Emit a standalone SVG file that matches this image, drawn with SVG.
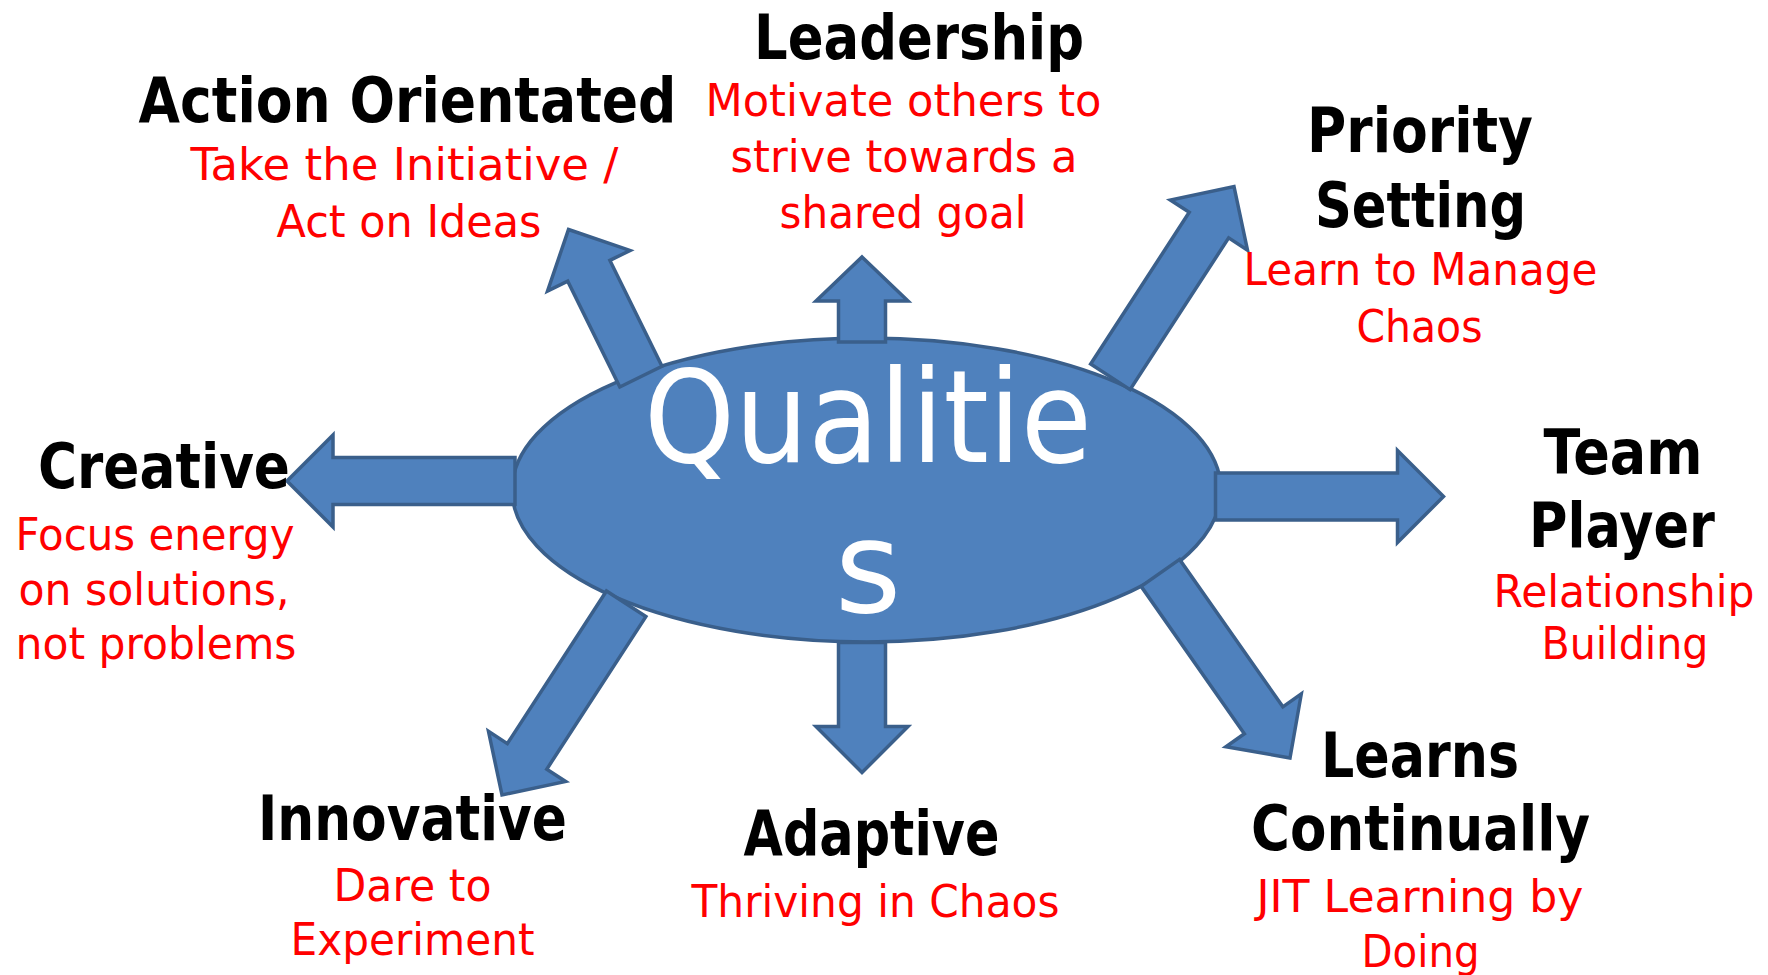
<svg xmlns="http://www.w3.org/2000/svg" width="1768" height="975" viewBox="0 0 1768 975">
<style>
.shape{fill:#4F81BD;stroke:#3A5F8B;stroke-width:3.5;stroke-linejoin:miter}
.h{font-family:"DejaVu Sans","Liberation Sans",sans-serif;font-weight:bold;font-size:62px;fill:#000;text-anchor:middle}
.s{font-family:"DejaVu Sans","Liberation Sans",sans-serif;font-size:44px;fill:#FF0000;text-anchor:middle}
.c{font-family:"DejaVu Sans","Liberation Sans",sans-serif;font-size:128px;fill:#FFFFFF;text-anchor:middle}
</style>
<rect width="1768" height="975" fill="#FFFFFF"/>
<g id="center-shape">
<ellipse class="shape" cx="866.5" cy="490" rx="354.5" ry="152"/>
</g>
<g id="connectors">
<polygon class="shape" transform="translate(862,257)" points="0,0 46,44 23.5,44 23.5,85 -23.5,85 -23.5,44 -46,44"/>
<polygon class="shape" transform="translate(862,772.5) rotate(180)" points="0,0 46,46 23.5,46 23.5,130 -23.5,130 -23.5,46 -46,46"/>
<polygon class="shape" transform="translate(287,481) rotate(-90)" points="0,0 46,46 23.5,46 23.5,228 -23.5,228 -23.5,46 -46,46"/>
<polygon class="shape" transform="translate(1443.5,496.5) rotate(90)" points="0,0 46,46 23.5,46 23.5,228 -23.5,228 -23.5,46 -46,46"/>
<polygon class="shape" transform="translate(568.5,229.5) rotate(-26.2)" points="0,0 46,46 23.5,46 23.5,164 -23.5,164 -23.5,46 -46,46"/>
<polygon class="shape" transform="translate(1234,186.5) rotate(33)" points="0,0 46,46 23.5,46 23.5,227 -23.5,227 -23.5,46 -46,46"/>
<polygon class="shape" transform="translate(502,795) rotate(-147)" points="0,0 46,46 23.5,46 23.5,228 -23.5,228 -23.5,46 -46,46"/>
<polygon class="shape" transform="translate(1290,758) rotate(145)" points="0,0 46,46 23.5,46 23.5,226 -23.5,226 -23.5,46 -46,46"/>
</g>
<g id="center-label">
<text class="c" x="868" y="462" textLength="448" lengthAdjust="spacingAndGlyphs">Qualitie</text>
<text class="c" x="868" y="612">s</text>
</g>
<g id="node-leadership">
<text class="h" x="919" y="58.5" textLength="330" lengthAdjust="spacingAndGlyphs">Leadership</text>
<text class="s" x="903.5" y="116" textLength="396" lengthAdjust="spacingAndGlyphs">Motivate others to</text>
<text class="s" x="904" y="172" textLength="347" lengthAdjust="spacingAndGlyphs">strive towards a</text>
<text class="s" x="903" y="228" textLength="247" lengthAdjust="spacingAndGlyphs">shared goal</text>
</g>
<g id="node-action">
<text class="h" x="407.5" y="122" textLength="538" lengthAdjust="spacingAndGlyphs">Action Orientated</text>
<text class="s" x="404.5" y="180" textLength="428" lengthAdjust="spacingAndGlyphs">Take the Initiative /</text>
<text class="s" x="409" y="236.5" textLength="265" lengthAdjust="spacingAndGlyphs">Act on Ideas</text>
</g>
<g id="node-priority">
<text class="h" x="1420" y="152" textLength="226" lengthAdjust="spacingAndGlyphs">Priority</text>
<text class="h" x="1420.5" y="227" textLength="211" lengthAdjust="spacingAndGlyphs">Setting</text>
<text class="s" x="1420.5" y="285" textLength="354" lengthAdjust="spacingAndGlyphs">Learn to Manage</text>
<text class="s" x="1419.5" y="342" textLength="126" lengthAdjust="spacingAndGlyphs">Chaos</text>
</g>
<g id="node-team">
<text class="h" x="1623" y="473.5" textLength="159" lengthAdjust="spacingAndGlyphs">Team</text>
<text class="h" x="1622" y="547" textLength="186" lengthAdjust="spacingAndGlyphs">Player</text>
<text class="s" x="1624" y="607" textLength="261" lengthAdjust="spacingAndGlyphs">Relationship</text>
<text class="s" x="1625" y="659" textLength="167" lengthAdjust="spacingAndGlyphs">Building</text>
</g>
<g id="node-creative">
<text class="h" x="164" y="488" textLength="252" lengthAdjust="spacingAndGlyphs">Creative</text>
<text class="s" x="155" y="550" textLength="279" lengthAdjust="spacingAndGlyphs">Focus energy</text>
<text class="s" x="154" y="605" textLength="271" lengthAdjust="spacingAndGlyphs">on solutions,</text>
<text class="s" x="156" y="658.5" textLength="281" lengthAdjust="spacingAndGlyphs">not problems</text>
</g>
<g id="node-innovative">
<text class="h" x="412.5" y="840" textLength="309" lengthAdjust="spacingAndGlyphs">Innovative</text>
<text class="s" x="412.5" y="900.5" textLength="158" lengthAdjust="spacingAndGlyphs">Dare to</text>
<text class="s" x="412.5" y="955" textLength="244" lengthAdjust="spacingAndGlyphs">Experiment</text>
</g>
<g id="node-adaptive">
<text class="h" x="871.5" y="855" textLength="256" lengthAdjust="spacingAndGlyphs">Adaptive</text>
<text class="s" x="875.5" y="916.5" textLength="368" lengthAdjust="spacingAndGlyphs">Thriving in Chaos</text>
</g>
<g id="node-learns">
<text class="h" x="1420" y="777" textLength="198" lengthAdjust="spacingAndGlyphs">Learns</text>
<text class="h" x="1420.5" y="850" textLength="339" lengthAdjust="spacingAndGlyphs">Continually</text>
<text class="s" x="1420" y="911.5" textLength="327" lengthAdjust="spacingAndGlyphs">JIT Learning by</text>
<text class="s" x="1420.5" y="966.5" textLength="118" lengthAdjust="spacingAndGlyphs">Doing</text>
</g>
</svg>
